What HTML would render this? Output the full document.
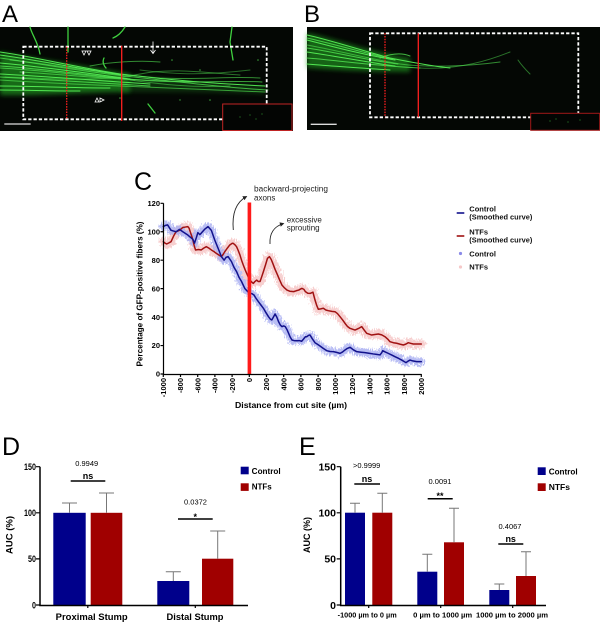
<!DOCTYPE html>
<html><head><meta charset="utf-8"><style>
html,body{margin:0;padding:0;background:#fff;}
svg{display:block;font-family:"Liberation Sans",Arial,sans-serif;}
.b{font-weight:bold;}
</style></head><body>
<svg width="600" height="623" viewBox="0 0 600 623" xmlns="http://www.w3.org/2000/svg">
<defs>
<filter id="blur2" x="-10%" y="-50%" width="120%" height="200%"><feGaussianBlur stdDeviation="2.5"/></filter>
<filter id="jit" x="-5%" y="-10%" width="110%" height="120%">
<feTurbulence type="fractalNoise" baseFrequency="0.9 0.35" numOctaves="2" seed="3" result="n"/>
<feDisplacementMap in="SourceGraphic" in2="n" scale="9" xChannelSelector="R" yChannelSelector="G"/>
</filter>
<marker id="ah" viewBox="0 0 10 10" refX="8" refY="5" markerWidth="5" markerHeight="5" orient="auto"><path d="M0,0 L10,5 L0,10 z" fill="#222"/></marker>
</defs>

<!-- Panel letters -->
<text x="2" y="22" font-size="24" fill="#000">A</text>
<text x="304" y="22" font-size="24" fill="#000">B</text>

<!-- Panel A image -->
<rect x="0" y="27" width="293" height="104" fill="#040704"/>
<g fill="none" stroke-linecap="round">
<path d="M0,52 C30,58 60,62 130,74 L130,92 C80,92 40,96 0,95 Z" fill="#22a022" stroke="none" opacity="0.65" filter="url(#blur2)"/>
<path d="M120,74 C170,78 220,82 265,86 L265,94 C220,92 170,92 120,92 Z" fill="#1a6a1a" stroke="none" opacity="0.4" filter="url(#blur2)"/>
<g stroke="#55ee55" stroke-width="1" opacity="0.95">
<path d="M0,52 C30,56 70,66 120,74 C170,80 220,84 265,86"/>
<path d="M0,55 C30,59 70,67 122,75" />
<path d="M0,58 C30,62 70,70 125,76 C180,82 230,88 268,90" opacity="0.75"/>
<path d="M0,63 C35,66 80,72 130,79"/>
<path d="M0,66 C35,68 80,74 135,80" opacity="0.8"/>
<path d="M0,68 C40,70 85,76 140,80 C190,84 230,80 262,82" opacity="0.7"/>
<path d="M0,74 C40,76 90,80 150,84"/>
<path d="M0,77 C40,79 90,82 150,86" opacity="0.8"/>
<path d="M0,80 C30,82 70,84 120,86 C170,88 220,90 265,92" opacity="0.65"/>
<path d="M0,86 C30,86 70,88 110,88"/>
<path d="M0,90 C25,90 50,91 80,91"/>
<path d="M10,60 C50,64 100,73 160,78 C200,80 230,76 260,78" opacity="0.6"/>
<path d="M20,72 C60,74 110,80 200,82" opacity="0.7"/>
<path d="M5,77 C50,79 100,82 140,74 C170,68 200,72 240,75" opacity="0.5"/>
<path d="M90,66 C110,62 140,60 160,62" opacity="0.6"/>
<path d="M130,80 C160,84 190,88 230,86" opacity="0.5"/>
<path d="M140,70 C170,74 200,76 250,70" opacity="0.45"/>
</g>
<g stroke="#40d040" stroke-width="1.3">
<path d="M30,27 C32,35 38,42 40,54"/>
<path d="M68,27 L68,52"/>
<path d="M125,27 C122,32 118,36 113,38"/>
<path d="M232,27 L230,42 L233,60"/>
<path d="M148,104 L155,113"/>
<path d="M104,58 C102,62 104,66 106,68"/>
</g>
</g>
<g fill="#3aa03a">
<circle cx="172" cy="60" r="0.8"/><circle cx="200" cy="70" r="0.8"/><circle cx="210" cy="100" r="0.8"/><circle cx="258" cy="60" r="0.8"/><circle cx="120" cy="98" r="0.8"/><circle cx="240" cy="112" r="0.7"/><circle cx="250" cy="118" r="0.7"/><circle cx="262" cy="116" r="0.7"/><circle cx="180" cy="100" r="0.7"/>
</g>
<rect x="23.3" y="46.7" width="243.4" height="72.6" fill="none" stroke="#fff" stroke-width="1.8" stroke-dasharray="3.3 2"/>
<line x1="66.7" y1="46.7" x2="66.7" y2="119" stroke="#ff2020" stroke-width="1.3" stroke-dasharray="1.5 1.2"/>
<line x1="121.7" y1="45.7" x2="121.7" y2="121" stroke="#ff2020" stroke-width="1.3"/>
<rect x="222.7" y="104" width="69.3" height="26.5" fill="#030503" stroke="#c02424" stroke-width="1"/>
<g fill="#2a8a2a"><circle cx="240" cy="117" r="0.6"/><circle cx="250" cy="115" r="0.6"/><circle cx="256" cy="119" r="0.6"/><circle cx="262" cy="114" r="0.6"/></g>
<line x1="4.3" y1="124" x2="30.7" y2="124" stroke="#ddd" stroke-width="1.3"/>
<g stroke="#fff" stroke-width="0.8" fill="none">
<line x1="153" y1="41.5" x2="153" y2="53"/><path d="M150.5,50 L153,53.5 L155.5,50"/>
<path d="M82,51 L86,51 L84,55 Z"/><path d="M87,51 L91,51 L89,55 Z"/>
<path d="M95,102 L97,98 L99,102 Z"/><path d="M100,98 L104,100 L100,102 Z"/>
</g>

<!-- Panel B image -->
<rect x="307" y="27" width="293" height="103" fill="#040704"/>
<g fill="none" stroke-linecap="round">
<path d="M307,33 C340,40 370,52 410,58 L410,72 C370,72 340,70 307,68 Z" fill="#22a022" stroke="none" opacity="0.6" filter="url(#blur2)"/>
<g stroke="#55ee55" stroke-width="1" opacity="0.95">
<path d="M307,35 C330,40 360,50 390,58 C410,62 430,66 450,68"/>
<path d="M307,38 C330,43 360,52 392,59" opacity="0.8"/>
<path d="M307,40 C330,46 360,54 395,60"/>
<path d="M307,45 C335,50 365,58 400,64 C430,68 470,66 500,62" opacity="0.6"/>
<path d="M307,48 C335,52 365,60 398,64" opacity="0.8"/>
<path d="M307,52 C335,56 365,62 395,66"/>
<path d="M307,58 C335,60 365,65 420,68" opacity="0.8"/>
<path d="M307,64 C330,66 360,68 390,70"/>
<path d="M420,68 C460,70 490,60 510,52" opacity="0.5"/>
<path d="M380,58 C390,54 400,52 410,56" opacity="0.8"/>
<path d="M518,60 C522,66 526,70 530,74" opacity="0.5"/>
</g>
</g>
<rect x="370" y="33.3" width="208.3" height="84" fill="none" stroke="#fff" stroke-width="1.8" stroke-dasharray="3.3 2"/>
<line x1="385" y1="33.3" x2="385" y2="117.3" stroke="#ff2020" stroke-width="1.3" stroke-dasharray="1.5 1.2"/>
<line x1="418.3" y1="33.3" x2="418.3" y2="117.3" stroke="#ff2020" stroke-width="1.3"/>
<rect x="530.7" y="113.3" width="69" height="17" fill="#030503" stroke="#a01818" stroke-width="1"/>
<g fill="#2a8a2a"><circle cx="550" cy="121" r="0.6"/><circle cx="556" cy="119" r="0.6"/><circle cx="568" cy="122" r="0.6"/><circle cx="580" cy="120" r="0.6"/></g>
<line x1="310.7" y1="124.3" x2="336.7" y2="124.3" stroke="#ddd" stroke-width="1.3"/>

<!-- Panel C -->
<text x="134" y="190" font-size="25" fill="#000">C</text>
<g filter="url(#jit)">
<g transform="translate(249.3,374) scale(0.086,-1.4225)" fill="none" stroke-linejoin="round" stroke-linecap="round">
<polyline vector-effect="non-scaling-stroke" stroke="#f6c4c4" stroke-width="9" opacity="0.8" points="-1000,93 -980,92 -961,91.4 -940,92 -910,93 -880,97 -852,100 -812,101 -773,103 -745,103.3 -715,103.6 -700,102.5 -687,100 -670,97 -656,94.2 -640,90 -625,87.2 -590,87.5 -559,87.2 -530,88.5 -500,89.5 -470,88.5 -441,87.2 -410,86 -383,84.8 -350,83.5 -324,82.5 -305,84 -285,86 -255,88.5 -227,90.7 -200,91.8 -188,91.9 -170,91 -148,89.5 -130,87 -109,83.7 -90,80 -70,76.6 -50,73.5 -31,70.8 -10,68 8,66 30,64.5 47,63.7 65,65 86,66 105,65 125,65 145,68.5 164,72 190,77 211,81.3 234,82.5 255,80.5 273,77.8 300,73.5 320,70.8 350,66.5 379,62.6 410,60.5 438,59 470,58.2 516,57.9 545,58.5 575,59 595,59.7 613,60.2 635,59.5 652,57.9 680,56.8 711,56.7 720,57 740,57.5 764,52 785,48 803,45.5 830,45.8 861,46.2 890,45 919,44.5 960,44 997,43.8 1025,42.5 1055,40.3 1085,38 1113,35.6 1140,33.5 1171,32.1 1200,31.5 1229,30.9 1270,32 1307,33.3 1335,31 1365,28.6 1395,28 1423,27.4 1460,27.8 1500,28.1 1540,27.5 1578,26.2 1610,24.5 1636,22.7 1675,22 1714,21.6 1750,21 1791,20.4 1820,21 1849,22 1880,21.5 1907,21.1 1950,21.1 2000,21.1"/>
<polyline vector-effect="non-scaling-stroke" stroke="#a8aef2" stroke-width="8" opacity="0.8" points="-1000,103.6 -975,104.5 -950,104.8 -910,101 -880,100.5 -850,100 -812,101.7 -773,100 -715,97.7 -656,94.7 -637,92 -615,96 -598,99.4 -575,98 -559,99 -520,101.7 -480,103.6 -441,101 -402,94.2 -363,88.4 -324,82.5 -293,80 -270,82 -246,82.5 -207,79 -178,75 -148,72 -120,68 -90,65 -51,60 -20,58 8,56.7 30,56.5 55,55.5 80,53 105,50.9 135,48.5 164,46.2 195,43 223,40.3 245,38.5 262,38 280,40 300,42.2 320,40 340,36.8 360,34.5 379,33.3 400,33.8 418,33.3 440,31 457,28.6 475,26 496,23.9 520,23.5 555,23.4 580,23.5 609,23 630,24.5 652,26.2 667,26.2 690,27.2 706,27.4 730,25 764,22 790,21 822,19.7 860,18 900,16.4 940,15.8 977,15.7 1015,15.2 1055,14.5 1085,15.5 1113,16.9 1140,18 1171,18.8 1210,17 1249,15.7 1300,15.3 1345,15 1400,14.5 1442,14.1 1480,13.8 1520,13.4 1540,15 1551,16.4 1580,15.5 1616,14.5 1660,13.2 1694,12.2 1735,11 1772,9.8 1800,8.8 1822,8 1845,9 1869,9.8 1900,9.2 1946,8.7 2000,8.7"/>
</g>
</g>
<g transform="translate(249.3,374) scale(0.086,-1.4225)" fill="none" stroke-linejoin="round" stroke-linecap="round">
<polyline vector-effect="non-scaling-stroke" stroke="#a01212" stroke-width="1.5" points="-1000,93 -980,92 -961,91.4 -940,92 -910,93 -880,97 -852,100 -812,101 -773,103 -745,103.3 -715,103.6 -700,102.5 -687,100 -670,97 -656,94.2 -640,90 -625,87.2 -590,87.5 -559,87.2 -530,88.5 -500,89.5 -470,88.5 -441,87.2 -410,86 -383,84.8 -350,83.5 -324,82.5 -305,84 -285,86 -255,88.5 -227,90.7 -200,91.8 -188,91.9 -170,91 -148,89.5 -130,87 -109,83.7 -90,80 -70,76.6 -50,73.5 -31,70.8 -10,68 8,66 30,64.5 47,63.7 65,65 86,66 105,65 125,65 145,68.5 164,72 190,77 211,81.3 234,82.5 255,80.5 273,77.8 300,73.5 320,70.8 350,66.5 379,62.6 410,60.5 438,59 470,58.2 516,57.9 545,58.5 575,59 595,59.7 613,60.2 635,59.5 652,57.9 680,56.8 711,56.7 720,57 740,57.5 764,52 785,48 803,45.5 830,45.8 861,46.2 890,45 919,44.5 960,44 997,43.8 1025,42.5 1055,40.3 1085,38 1113,35.6 1140,33.5 1171,32.1 1200,31.5 1229,30.9 1270,32 1307,33.3 1335,31 1365,28.6 1395,28 1423,27.4 1460,27.8 1500,28.1 1540,27.5 1578,26.2 1610,24.5 1636,22.7 1675,22 1714,21.6 1750,21 1791,20.4 1820,21 1849,22 1880,21.5 1907,21.1 1950,21.1 2000,21.1"/>
<polyline vector-effect="non-scaling-stroke" stroke="#12128c" stroke-width="1.5" points="-1000,103.6 -975,104.5 -950,104.8 -910,101 -880,100.5 -850,100 -812,101.7 -773,100 -715,97.7 -656,94.7 -637,92 -615,96 -598,99.4 -575,98 -559,99 -520,101.7 -480,103.6 -441,101 -402,94.2 -363,88.4 -324,82.5 -293,80 -270,82 -246,82.5 -207,79 -178,75 -148,72 -120,68 -90,65 -51,60 -20,58 8,56.7 30,56.5 55,55.5 80,53 105,50.9 135,48.5 164,46.2 195,43 223,40.3 245,38.5 262,38 280,40 300,42.2 320,40 340,36.8 360,34.5 379,33.3 400,33.8 418,33.3 440,31 457,28.6 475,26 496,23.9 520,23.5 555,23.4 580,23.5 609,23 630,24.5 652,26.2 667,26.2 690,27.2 706,27.4 730,25 764,22 790,21 822,19.7 860,18 900,16.4 940,15.8 977,15.7 1015,15.2 1055,14.5 1085,15.5 1113,16.9 1140,18 1171,18.8 1210,17 1249,15.7 1300,15.3 1345,15 1400,14.5 1442,14.1 1480,13.8 1520,13.4 1540,15 1551,16.4 1580,15.5 1616,14.5 1660,13.2 1694,12.2 1735,11 1772,9.8 1800,8.8 1822,8 1845,9 1869,9.8 1900,9.2 1946,8.7 2000,8.7"/>
</g>
<rect x="247.6" y="202.5" width="3.6" height="171.5" fill="#ff1a1a"/>
<!-- axes C -->
<g stroke="#000" stroke-width="1.2" fill="none">
<path d="M163.5,203.3 V374.5 H421.5"/>
<path d="M160.5,374 H163.5 M160.5,345.55 H163.5 M160.5,317.1 H163.5 M160.5,288.65 H163.5 M160.5,260.2 H163.5 M160.5,231.75 H163.5 M160.5,203.3 H163.5"/>
<path d="M163.3,374 v3 M180.5,374 v3 M197.7,374 v3 M214.9,374 v3 M232.1,374 v3 M249.3,374 v3 M266.5,374 v3 M283.7,374 v3 M300.9,374 v3 M318.1,374 v3 M335.3,374 v3 M352.5,374 v3 M369.7,374 v3 M386.9,374 v3 M404.1,374 v3 M421.3,374 v3"/>
</g>
<g class="b" font-size="7.5" text-anchor="end" fill="#000">
<text x="160" y="376.7">0</text><text x="160" y="348.2">20</text><text x="160" y="319.8">40</text><text x="160" y="291.3">60</text><text x="160" y="262.9">80</text><text x="160" y="234.4">100</text><text x="160" y="206">120</text>
</g>
<g class="b" font-size="7.5" text-anchor="end" fill="#000">
<text transform="translate(166,378) rotate(-90)">-1000</text>
<text transform="translate(183.2,378) rotate(-90)">-800</text>
<text transform="translate(200.4,378) rotate(-90)">-600</text>
<text transform="translate(217.6,378) rotate(-90)">-400</text>
<text transform="translate(234.8,378) rotate(-90)">-200</text>
<text transform="translate(252,378) rotate(-90)">0</text>
<text transform="translate(269.2,378) rotate(-90)">200</text>
<text transform="translate(286.4,378) rotate(-90)">400</text>
<text transform="translate(303.6,378) rotate(-90)">600</text>
<text transform="translate(320.8,378) rotate(-90)">800</text>
<text transform="translate(338,378) rotate(-90)">1000</text>
<text transform="translate(355.2,378) rotate(-90)">1200</text>
<text transform="translate(372.4,378) rotate(-90)">1400</text>
<text transform="translate(389.6,378) rotate(-90)">1600</text>
<text transform="translate(406.8,378) rotate(-90)">1800</text>
<text transform="translate(424,378) rotate(-90)">2000</text>
</g>
<text class="b" transform="translate(142.5,294) rotate(-90)" text-anchor="middle" font-size="8" textLength="145" lengthAdjust="spacingAndGlyphs">Percentage of GFP-positive fibers (%)</text>
<text class="b" x="235" y="408" font-size="8" textLength="112" lengthAdjust="spacingAndGlyphs">Distance from cut site (µm)</text>
<!-- annotations -->
<g font-size="8" fill="#222">
<text x="254" y="191.5" textLength="74" lengthAdjust="spacingAndGlyphs">backward-projecting</text>
<text x="254" y="200.5">axons</text>
<text x="286.7" y="222.5">excessive</text>
<text x="286.7" y="230.5">sprouting</text>
</g>
<path d="M233.3,230 Q231,205 246.5,196.5" fill="none" stroke="#222" stroke-width="0.9" marker-end="url(#ah)"/>
<path d="M270,244 Q269,228 283.5,223.5" fill="none" stroke="#222" stroke-width="0.9" marker-end="url(#ah)"/>
<!-- legend C -->
<line x1="456.7" y1="213" x2="464.3" y2="213" stroke="#12128c" stroke-width="1.6"/>
<line x1="456.7" y1="236" x2="464.3" y2="236" stroke="#a01212" stroke-width="1.6"/>
<circle cx="460.5" cy="253.5" r="1.6" fill="#8a8ae8"/>
<circle cx="460.5" cy="267" r="1.6" fill="#f5c8c8"/>
<g class="b" font-size="7.5" fill="#111">
<text x="469.3" y="211.5">Control</text>
<text x="469.3" y="219.5" textLength="63" lengthAdjust="spacingAndGlyphs">(Smoothed curve)</text>
<text x="469.3" y="234.3">NTFs</text>
<text x="469.3" y="242.3" textLength="63" lengthAdjust="spacingAndGlyphs">(Smoothed curve)</text>
<text x="469.3" y="256.5">Control</text>
<text x="469.3" y="269.5">NTFs</text>
</g>

<!-- Panel D -->
<text x="2" y="455" font-size="25" fill="#000">D</text>
<g>
<rect x="53.3" y="512.8" width="32.4" height="92.2" fill="#00008b"/>
<rect x="90.7" y="512.8" width="31.6" height="92.2" fill="#a00000"/>
<rect x="157.3" y="581" width="32" height="24" fill="#00008b"/>
<rect x="202" y="558.7" width="31.3" height="46.3" fill="#a00000"/>
</g>
<g stroke="#777" stroke-width="1" fill="none">
<path d="M69.5,512.8 V503 M62,503 H77"/>
<path d="M106.5,512.8 V493 M99,493 H114"/>
<path d="M173.3,581 V571.7 M165.8,571.7 H180.8"/>
<path d="M217.7,558.7 V531 M210.2,531 H225.2"/>
</g>
<g stroke="#000" fill="none">
<path d="M40,466.7 V605.5 H248" stroke-width="1.5"/>
<path d="M36,466.7 H40 M36,512.8 H40 M36,558.9 H40 M36,605 H40" stroke-width="1.2"/>
<path d="M87.8,605 v3 M195.3,605 v3" stroke-width="1.2"/>
<path d="M70.7,481 H105.3 M178,519 H212.7" stroke-width="1.5"/>
</g>
<g class="b" font-size="9" text-anchor="end">
<text x="36" y="470" textLength="12" lengthAdjust="spacingAndGlyphs">150</text>
<text x="36" y="516.1" textLength="12" lengthAdjust="spacingAndGlyphs">100</text>
<text x="36" y="562.2" textLength="8" lengthAdjust="spacingAndGlyphs">50</text>
<text x="36" y="608.3" textLength="4" lengthAdjust="spacingAndGlyphs">0</text>
</g>
<text class="b" transform="translate(12.7,535) rotate(-90)" text-anchor="middle" font-size="9" textLength="38" lengthAdjust="spacingAndGlyphs">AUC (%)</text>
<g font-size="7.5" text-anchor="middle">
<text x="86.7" y="466">0.9949</text>
<text x="195.5" y="504.3">0.0372</text>
</g>
<g class="b" font-size="9" text-anchor="middle">
<text x="88" y="479">ns</text>
<text x="195.3" y="520">*</text>
<text x="91.7" y="620" textLength="72" lengthAdjust="spacingAndGlyphs">Proximal Stump</text>
<text x="195" y="620" textLength="57" lengthAdjust="spacingAndGlyphs">Distal Stump</text>
</g>
<rect x="240.7" y="466.7" width="8" height="7.6" fill="#00008b"/>
<rect x="240.7" y="483.3" width="8" height="7.6" fill="#a00000"/>
<g class="b" font-size="8">
<text x="251.7" y="474" textLength="29" lengthAdjust="spacingAndGlyphs">Control</text>
<text x="251.7" y="489.5">NTFs</text>
</g>

<!-- Panel E -->
<text x="299" y="455" font-size="25" fill="#000">E</text>
<g>
<rect x="345" y="512.7" width="20" height="92.3" fill="#00008b"/>
<rect x="372.3" y="512.7" width="20" height="92.3" fill="#a00000"/>
<rect x="417.3" y="571.7" width="20" height="33.3" fill="#00008b"/>
<rect x="444" y="542.3" width="20" height="62.7" fill="#a00000"/>
<rect x="489.3" y="590" width="20" height="15" fill="#00008b"/>
<rect x="516" y="576" width="20" height="29" fill="#a00000"/>
</g>
<g stroke="#777" stroke-width="1" fill="none">
<path d="M355,512.7 V503.3 M350,503.3 H360"/>
<path d="M382.3,512.7 V493.3 M377.3,493.3 H387.3"/>
<path d="M427.3,571.7 V554.3 M422.3,554.3 H432.3"/>
<path d="M454,542.3 V508.3 M449,508.3 H459"/>
<path d="M499.3,590 V584 M494.3,584 H504.3"/>
<path d="M526,576 V551.7 M521,551.7 H531"/>
</g>
<g stroke="#000" fill="none">
<path d="M340.7,466.7 V605.5 H546" stroke-width="1.5"/>
<path d="M336.7,466.7 H340.7 M336.7,512.8 H340.7 M336.7,558.9 H340.7 M336.7,605 H340.7" stroke-width="1.2"/>
<path d="M368.7,605 v3 M440.7,605 v3 M512.7,605 v3" stroke-width="1.2"/>
<path d="M354.3,484 H380 M427.7,498.7 H452.7 M498.3,544 H523.3" stroke-width="1.5"/>
</g>
<g class="b" font-size="10.5" text-anchor="end">
<text x="336" y="470.5">150</text>
<text x="336" y="516.6">100</text>
<text x="336" y="562.7">50</text>
<text x="336" y="608.8">0</text>
</g>
<text class="b" transform="translate(310,535) rotate(-90)" text-anchor="middle" font-size="9" textLength="36" lengthAdjust="spacingAndGlyphs">AUC (%)</text>
<g font-size="7.5" text-anchor="middle">
<text x="366.7" y="468">&gt;0.9999</text>
<text x="440" y="484">0.0091</text>
<text x="510" y="529">0.4067</text>
</g>
<g class="b" font-size="9" text-anchor="middle">
<text x="367" y="482">ns</text>
<text x="440" y="499">**</text>
<text x="510.7" y="542">ns</text>
</g>
<g class="b" font-size="7" text-anchor="middle">
<text x="367.2" y="617.5" textLength="59" lengthAdjust="spacingAndGlyphs">-1000 µm to 0 µm</text>
<text x="442.7" y="617.5" textLength="59" lengthAdjust="spacingAndGlyphs">0 µm to 1000 µm</text>
<text x="512" y="617.5" textLength="72" lengthAdjust="spacingAndGlyphs">1000 µm to 2000 µm</text>
</g>
<rect x="537.7" y="467.3" width="8" height="7.7" fill="#00008b"/>
<rect x="537.7" y="483.3" width="8" height="7.7" fill="#a00000"/>
<g class="b" font-size="8.5">
<text x="548.7" y="474.5" textLength="29" lengthAdjust="spacingAndGlyphs">Control</text>
<text x="548.7" y="490">NTFs</text>
</g>
</svg>
</body></html>
